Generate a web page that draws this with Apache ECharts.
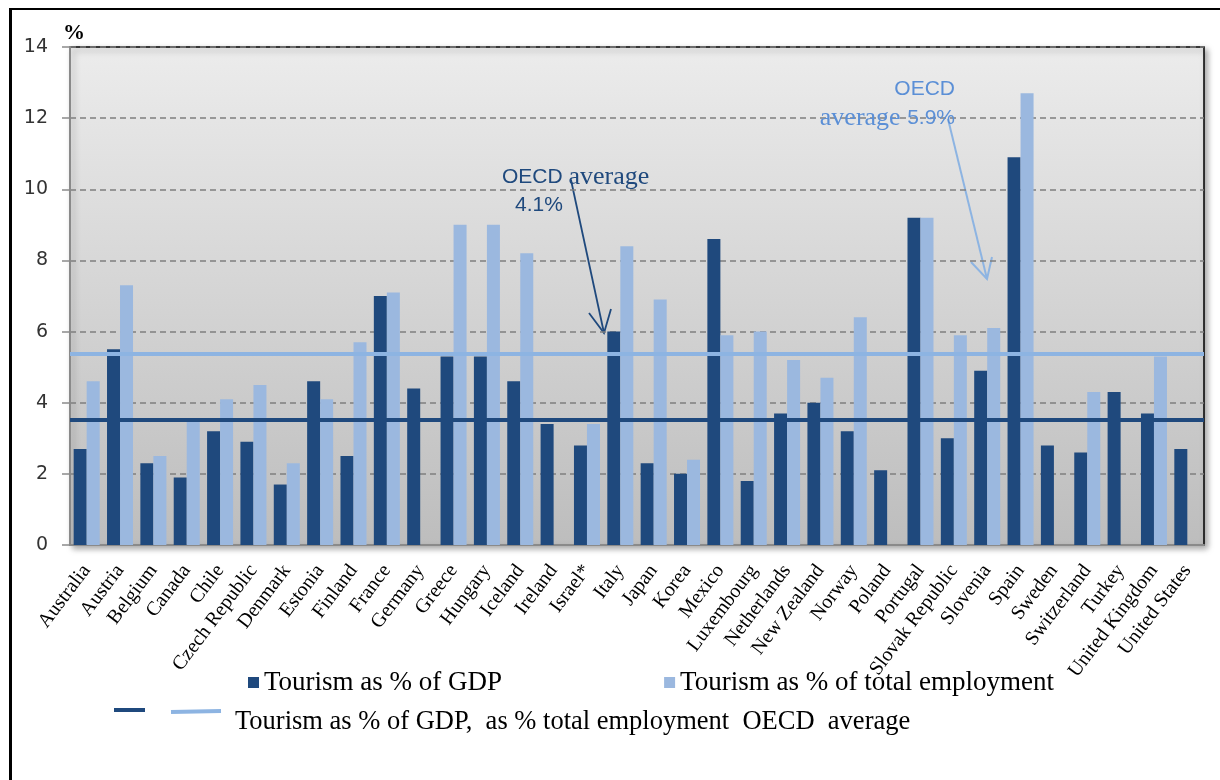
<!DOCTYPE html>
<html>
<head>
<meta charset="utf-8">
<title>Tourism in OECD countries</title>
<script src="https://cdn.jsdelivr.net/npm/echarts@6/dist/echarts.min.js"></script>
<style>
  html, body { margin: 0; padding: 0; background: #fff; }
  #wrap { position: relative; width: 1220px; height: 780px; overflow: hidden; }
  #frame { position: absolute; left: 9px; top: 8px; right: -10px; bottom: -10px;
           border-left: 3px solid #000; border-top: 2px solid #000; pointer-events: none; }
  #chart { position: absolute; left: 0; top: 0; width: 1220px; height: 780px; }
</style>
</head>
<body>
<div id="wrap">
  <div id="chart"></div>
  <div id="frame"></div>
</div>
<script>
// Countries in the order they are plotted
const categories = [
  'Australia', 'Austria', 'Belgium', 'Canada', 'Chile', 'Czech Republic', 'Denmark',
  'Estonia', 'Finland', 'France', 'Germany', 'Greece', 'Hungary', 'Iceland', 'Ireland',
  'Israel*', 'Italy', 'Japan', 'Korea', 'Mexico', 'Luxembourg', 'Netherlands',
  'New Zealand', 'Norway', 'Poland', 'Portugal', 'Slovak Republic', 'Slovenia', 'Spain',
  'Sweden', 'Switzerland', 'Turkey', 'United Kingdom', 'United States'
];

// Tourism as % of GDP
const gdpShare = [
  2.7, 5.5, 2.3, 1.9, 3.2, 2.9, 1.7, 4.6, 2.5, 7.0, 4.4, 5.3, 5.3, 4.6, 3.4,
  2.8, 6.0, 2.3, 2.0, 8.6, 1.8, 3.7, 4.0, 3.2, 2.1, 9.2, 3.0, 4.9, 10.9,
  2.8, 2.6, 4.3, 3.7, 2.7
];

// Tourism as % of total employment (no data where null)
const employmentShare = [
  4.6, 7.3, 2.5, 3.5, 4.1, 4.5, 2.3, 4.1, 5.7, 7.1, null, 9.0, 9.0, 8.2, null,
  3.4, 8.4, 6.9, 2.4, 5.9, 6.0, 5.2, 4.7, 6.4, null, 9.2, 5.9, 6.1, 12.7,
  null, 4.3, null, 5.3, null
];

// Horizontal OECD average lines: [GDP, employment]
const averageLines = [3.53, 5.37];

// Y axis range and step
const yTicks = { min: 0, max: 14, interval: 2 };

const seriesNames = ['Tourism as % of GDP', 'Tourism as % of total employment'];
const averageLegendText = 'Tourism as % of GDP,  as % total employment  OECD  average';

const DARK = '#1F497D';
const LIGHT = '#9BB8DF';
const LIGHT_LINE = '#8DB4E2';
const LIGHT_TEXT = '#5B8FD6';
const SERIF = '"Liberation Serif", "Times New Roman", serif';
const SANS = '"Liberation Sans", Arial, sans-serif';

const chart = echarts.init(document.getElementById('chart'), null, { renderer: 'canvas' });

function avgLine(value, color) {
  return {
    silent: true,
    symbol: ['none', 'none'],
    label: { show: false },
    lineStyle: { color: color, width: 4, type: 'solid', opacity: 1 },
    emphasis: { disabled: true },
    data: [{ yAxis: value }]
  };
}

function arrow(x1, y1, x2, y2, wingL, wingR, color, w) {
  return {
    type: 'group',
    silent: true,
    z: 50,
    children: [
      { type: 'line', shape: { x1: x1, y1: y1, x2: x2, y2: y2 },
        style: { stroke: color, lineWidth: w } },
      { type: 'polyline', shape: { points: [wingL, [x2, y2], wingR] },
        style: { stroke: color, lineWidth: w, fill: null } }
    ]
  };
}

const option = {
  animation: false,
  backgroundColor: 'transparent',
  grid: {
    left: 70, right: 16, top: 47, bottom: 235,
    show: true,
    backgroundColor: new echarts.graphic.LinearGradient(0, 0, 0, 1, [
      { offset: 0, color: '#ECECEC' },
      { offset: 1, color: '#BDBDBD' }
    ]),
    borderColor: '#000',
    borderWidth: 1.5,
    shadowColor: 'rgba(0,0,0,0.35)',
    shadowBlur: 6,
    shadowOffsetX: 3,
    shadowOffsetY: 3
  },
  legend: {
    data: seriesNames,
    left: 243,
    top: 664,
    icon: 'rect',
    itemWidth: 11,
    itemHeight: 11,
    itemGap: 162,
    selectedMode: false,
    textStyle: { fontFamily: SERIF, fontSize: 27, color: '#000' }
  },
  xAxis: {
    type: 'category',
    data: categories,
    axisLine: { lineStyle: { color: '#8A8A8A', width: 2 } },
    axisTick: { show: false },
    axisLabel: {
      interval: 0,
      rotate: 53,
      margin: 22,
      fontFamily: SERIF,
      fontSize: 20,
      color: '#000'
    },
    splitLine: { show: false }
  },
  yAxis: {
    type: 'value',
    min: yTicks.min,
    max: yTicks.max,
    interval: yTicks.interval,
    axisLine: { show: true, lineStyle: { color: '#8A8A8A', width: 2 } },
    axisTick: { show: true, length: 8, lineStyle: { color: '#8A8A8A', width: 1.5 } },
    axisLabel: {
      margin: 22,
      fontFamily: '"DejaVu Sans", Verdana, sans-serif',
      fontSize: 19,
      color: '#333'
    },
    splitLine: {
      show: true,
      lineStyle: { color: '#7F7F7F', width: 1.5, type: [6, 4] }
    }
  },
  series: [
    {
      name: seriesNames[0],
      type: 'bar',
      data: gdpShare,
      itemStyle: { color: DARK },
      barGap: '0%',
      barCategoryGap: '22%',
      emphasis: { disabled: true },
      markLine: avgLine(averageLines[0], DARK),
      z: 2
    },
    {
      name: seriesNames[1],
      type: 'bar',
      data: employmentShare,
      itemStyle: { color: LIGHT },
      barGap: '0%',
      barCategoryGap: '22%',
      emphasis: { disabled: true },
      markLine: avgLine(averageLines[1], LIGHT_LINE),
      z: 2
    }
  ],
  graphic: [
    // unit of the value axis
    { type: 'text', left: 63, top: 22, silent: true,
      style: { text: '%', font: 'bold 22px ' + SERIF, fill: '#000' } },

    // GDP average annotation
    { type: 'text', silent: true, z: 50, x: 502, y: 177,
      style: {
        text: '{s|OECD }{t|average}',
        verticalAlign: 'middle',
        rich: {
          s: { fontFamily: SANS, fontSize: 21, fill: DARK, color: DARK },
          t: { fontFamily: SERIF, fontSize: 26, fill: DARK, color: DARK }
        }
      } },
    { type: 'text', silent: true, z: 50, x: 515, y: 205,
      style: { text: '4.1%', font: '21px ' + SANS, fill: DARK, verticalAlign: 'middle' } },
    arrow(571, 180, 604, 333, [589, 313], [611, 309], DARK, 1.8),

    // employment average annotation
    { type: 'text', silent: true, z: 50, x: 955, y: 89,
      style: { text: 'OECD', font: '21px ' + SANS, fill: LIGHT_TEXT,
               align: 'right', verticalAlign: 'middle' } },
    { type: 'text', silent: true, z: 50, x: 955, y: 118,
      style: {
        text: '{t|average }{s|5.9%}',
        align: 'right',
        verticalAlign: 'middle',
        rich: {
          s: { fontFamily: SANS, fontSize: 21, fill: LIGHT_TEXT, color: LIGHT_TEXT },
          t: { fontFamily: SERIF, fontSize: 26, fill: LIGHT_TEXT, color: LIGHT_TEXT }
        }
      } },
    arrow(948, 119, 987, 279, [971, 262], [992, 257], LIGHT_LINE, 2),

    // legend row for the average lines
    { type: 'line', silent: true, shape: { x1: 114, y1: 710, x2: 145, y2: 710 },
      style: { stroke: DARK, lineWidth: 4 } },
    { type: 'line', silent: true, shape: { x1: 171, y1: 712, x2: 221, y2: 711 },
      style: { stroke: LIGHT_LINE, lineWidth: 4 } },
    { type: 'text', silent: true, x: 235, y: 722,
      style: { text: averageLegendText, font: '26.5px ' + SERIF, fill: '#000',
               verticalAlign: 'middle' } }
  ]
};

chart.setOption(option);
</script>
</body>
</html>
